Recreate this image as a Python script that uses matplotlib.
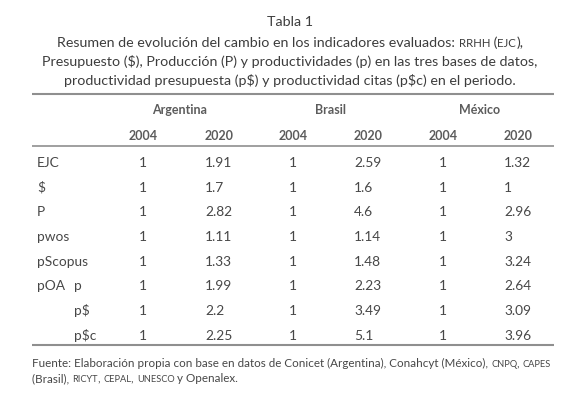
import matplotlib
matplotlib.use("Agg")
import matplotlib.pyplot as plt

W, H = 580, 411
FONT = ["Lato", "DejaVu Sans"]
TXT = "#474747"
HEAD = "#5c5c5c"
RULE = "#8f8f8f"

# ---- data ----
caption = "Tabla 1"
title_lines = [
    [("Resumen de evolución del cambio en los indicadores evaluados: ", False),
     ("rrhh", True), (" (", False), ("ejc", True), ("),", False)],
    [("Presupuesto ($), Producción (P) y productividades (p) en las tres bases de datos,", False)],
    [("productividad presupuesta (p$) y productividad citas (p$c) en el periodo.", False)],
]
countries = ["Argentina", "Brasil", "México"]
years = ["2004", "2020"]
row_labels = ["EJC", "$", "P", "pwos", "pScopus", "pOA", "", ""]
sub_labels = ["", "", "", "", "", "p", "p$", "p$c"]
arg_2004 = [1, 1, 1, 1, 1, 1, 1, 1]
arg_2020 = [1.91, 1.7, 2.82, 1.11, 1.33, 1.99, 2.2, 2.25]
bra_2004 = [1, 1, 1, 1, 1, 1, 1, 1]
bra_2020 = [2.59, 1.6, 4.6, 1.14, 1.48, 2.23, 3.49, 5.1]
mex_2004 = [1, 1, 1, 1, 1, 1, 1, 1]
mex_2020 = [1.32, 1, 2.96, 3, 3.24, 2.64, 3.09, 3.96]
source_lines = [
    [("Fuente: Elaboración propia con base en datos de Conicet (Argentina), Conahcyt (México), ", False),
     ("cnpq", True), (", ", False), ("capes", True)],
    [("(Brasil), ", False), ("ricyt", True), (", ", False), ("cepal", True), (", ", False),
     ("unesco", True), (" y Openalex.", False)],
]

fig = plt.figure(figsize=(W / 100, H / 100), dpi=100)
ax = fig.add_axes([0, 0, 1, 1])
ax.set_xlim(0, W)
ax.set_ylim(H, 0)
ax.axis("off")
r = fig.canvas.get_renderer()
SC = 0.8  # small caps scale


def text_w(s, size, weight="normal"):
    a = ax.text(0, 0, "x" + s + "x", fontsize=size, family=FONT, weight=weight, parse_math=False)
    b = ax.text(0, 0, "xx", fontsize=size, family=FONT, weight=weight, parse_math=False)
    w = a.get_window_extent(r).width - b.get_window_extent(r).width
    a.remove()
    b.remove()
    return w


def parts_w(parts, size):
    return sum(text_w(s.upper() if sc else s, size * SC if sc else size) for s, sc in parts)


def put(x, yc, s, size, ha="left", weight="normal", color=TXT, base=None):
    # yc is the visual centre of the line, convert to baseline
    base = base or size
    ax.text(x, yc + 0.36 * base * 100 / 72, s, fontsize=size, family=FONT, weight=weight,
            color=color, ha=ha, va="baseline", parse_math=False)


def put_parts(x, yc, parts, size, ha="left", color=TXT):
    if ha == "center":
        x = x - parts_w(parts, size) / 2
    for s, sc in parts:
        sz = size * SC if sc else size
        t = s.upper() if sc else s
        put(x, yc, t, sz, color=color, base=size)
        x += text_w(t, sz)


# font sizes fitted on widths
title_size = 10 * 497 / parts_w(title_lines[1], 10)
src_size = 10 * 518 / parts_w(source_lines[0], 10)
body_size = 10 * 51 / text_w("pScopus", 10)
head_size = 10 * 55 / text_w("Argentina", 10, "bold")

# title
put(290, 21, caption, title_size, ha="center", color="#3d3d3d")
for i, parts in enumerate(title_lines):
    put_parts(290, 42 + i * 19, parts, title_size, ha="center", color="#3d3d3d")

# rules
ax.plot([32, 554], [94, 94], color=RULE, lw=1.5, solid_capstyle="butt")
ax.plot([32, 554], [146, 146], color=RULE, lw=1.2, solid_capstyle="butt")
ax.plot([32, 554], [345, 345], color=RULE, lw=1.5, solid_capstyle="butt")

# headers
col_c = [143, 293, 443]   # 2004 columns (centred)
col_l = [205, 354, 504]   # 2020 columns (left aligned)
head_c = [180, 330, 480]
for k, c in enumerate(countries):
    put(head_c[k], 109, c, head_size, ha="center", weight="bold", color=HEAD)
    put(col_c[k], 135, years[0], head_size, ha="center", weight="bold", color=HEAD)
    put(col_l[k], 135, years[1], head_size, ha="left", weight="bold", color=HEAD)

# body
y0, dy = 162, 24.7
series = [(arg_2004, arg_2020), (bra_2004, bra_2020), (mex_2004, mex_2020)]
for i in range(len(row_labels)):
    y = y0 + i * dy
    put(37, y, row_labels[i], body_size)
    put(74, y, sub_labels[i], body_size)
    for k, (a, b) in enumerate(series):
        put(col_c[k], y, f"{a[i]:g}", body_size, ha="center")
        put(col_l[k], y, f"{b[i]:g}", body_size, ha="left")

# source note
for i, parts in enumerate(source_lines):
    put_parts(32, 363 + i * 15, parts, src_size)

fig.savefig("out.png", dpi=100, facecolor="white")
